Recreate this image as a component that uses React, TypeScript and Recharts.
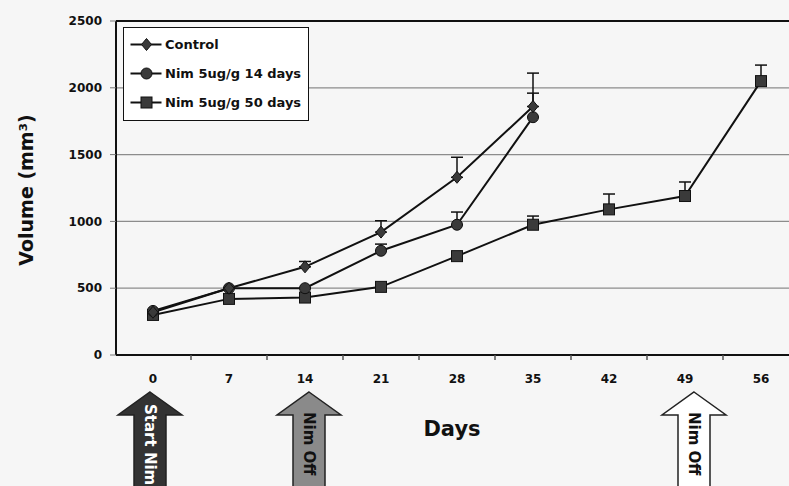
import { LineChart, Line, XAxis, YAxis, CartesianGrid, ReferenceLine, ErrorBar, Legend } from "recharts";

const days = [0, 7, 14, 21, 28, 35, 42, 49, 56];
const control = [320, 500, 660, 920, 1330, 1860, null, null, null];
const controlErr = [0, 0, 40, 85, 150, 250, null, null, null];
const nim14 = [330, 500, 500, 780, 975, 1780, null, null, null];
const nim14Err = [0, 0, 0, 50, 95, 180, null, null, null];
const nim50 = [300, 420, 430, 510, 740, 975, 1090, 1190, 2050];
const nim50Err = [0, 0, 0, 0, 0, 65, 115, 105, 120];
const yTicks = [0, 500, 1000, 1500, 2000, 2500];

const data = days.map((d, i) => ({
  day: d,
  control: control[i],
  controlErr: controlErr[i] == null ? null : [0, controlErr[i]],
  nim14: nim14[i],
  nim14Err: nim14Err[i] == null ? null : [0, nim14Err[i]],
  nim50: nim50[i],
  nim50Err: [0, nim50Err[i]],
}));

const FONT = "'DejaVu Sans', sans-serif";
const INK = "#111";
const MARK = "#3a3a3a";

function Marker({ kind, cx, cy }: { kind: string; cx: number; cy: number }) {
  if (kind === "diamond")
    return <polygon points={`${cx},${cy - 6} ${cx + 5},${cy} ${cx},${cy + 6} ${cx - 5},${cy}`} fill={MARK} stroke={INK} strokeWidth={1} />;
  if (kind === "circle") return <circle cx={cx} cy={cy} r={5.5} fill={MARK} stroke={INK} strokeWidth={1} />;
  return <rect x={cx - 5.5} y={cy - 5.5} width={11} height={11} fill={MARK} stroke={INK} strokeWidth={1} />;
}

const makeDot = (kind: string) => (props: any) => {
  const { cx, cy, index, value } = props;
  if (cx == null || cy == null || value == null) return <g key={`${kind}-${index}`} />;
  return (
    <g key={`${kind}-${index}`}>
      <Marker kind={kind} cx={cx} cy={cy} />
    </g>
  );
};

const XTick = ({ x, y, payload }: any) => (
  <g>
    <text x={x} y={y + 20} textAnchor="middle" fontFamily={FONT} fontWeight="bold" fontSize={12} fill={INK}>
      {payload.value}
    </text>
    <line x1={x + 38} x2={x + 38} y1={y - 8} y2={y - 3} stroke="#555" strokeWidth={1.5} />
  </g>
);

const legendRows = [
  { label: "Control", kind: "diamond" },
  { label: "Nim 5ug/g 14 days", kind: "circle" },
  { label: "Nim 5ug/g 50 days", kind: "square" },
];

const LegendBox = () => (
  <div
    style={{
      width: 186,
      height: 94,
      boxSizing: "border-box",
      border: `1.5px solid ${INK}`,
      background: "#fff",
      padding: "2px 0",
    }}
  >
    {legendRows.map((r) => (
      <div key={r.label} style={{ display: "flex", alignItems: "center", height: 29 }}>
        <svg width={41} height={29}>
          <line x1={6.5} x2={37.5} y1={14.5} y2={14.5} stroke={INK} strokeWidth={2} />
          <Marker kind={r.kind} cx={22.5} cy={14.5} />
        </svg>
        <span style={{ fontFamily: FONT, fontWeight: "bold", fontSize: 13, color: INK, whiteSpace: "nowrap" }}>
          {r.label}
        </span>
      </div>
    ))}
  </div>
);

function Arrow({ cx, fill, label, textFill, textY }: { cx: number; fill: string; label: string; textFill: string; textY: number }) {
  const pts = `${cx},392 ${cx + 32},415 ${cx + 16},415 ${cx + 16},492 ${cx - 16},492 ${cx - 16},415 ${cx - 32},415`;
  return (
    <g>
      <polygon points={pts} fill={fill} stroke="#222" strokeWidth={1.5} />
      <text
        transform={`translate(${cx},${textY}) rotate(90)`}
        textAnchor="start"
        dominantBaseline="central"
        fontFamily={FONT}
        fontWeight="bold"
        fontSize={15}
        fill={textFill}
      >
        {label}
      </text>
    </g>
  );
}

export default function App() {
  return (
    <div style={{ position: "absolute", left: 0, top: 0, width: 789, height: 486, background: "#f6f6f6", overflow: "hidden" }}>
      <LineChart width={789} height={486} data={data} margin={{ top: 21, right: 0, bottom: 0, left: 0 }}>
        <CartesianGrid vertical={false} stroke="#8c8c8c" strokeWidth={1.2} />
        <XAxis
          dataKey="day"
          type="category"
          height={131}
          padding={{ left: 37, right: 28 }}
          axisLine={{ stroke: INK, strokeWidth: 2 }}
          tickLine={false}
          tickSize={5}
          tickMargin={3}
          tick={<XTick />}
          interval={0}
        />
        <YAxis
          width={116}
          domain={[0, 2500]}
          ticks={yTicks}
          interval={0}
          axisLine={{ stroke: INK, strokeWidth: 2 }}
          tickLine={{ stroke: "#777" }}
          tickSize={6}
          tickMargin={8}
          tick={{ fontFamily: FONT, fontWeight: "bold", fontSize: 12, fill: INK }}
        />
        <ReferenceLine y={2500} stroke={INK} strokeWidth={2} />
        <Legend
          layout="vertical"
          align="center"
          verticalAlign="middle"
          content={<LegendBox />}
          wrapperStyle={{ position: "absolute", top: 27, left: 123, width: 186, height: 94 }}
        />
        <Line dataKey="nim50" name="Nim 5ug/g 50 days" stroke={INK} strokeWidth={2} dot={makeDot("square")} isAnimationActive={false}>
          <ErrorBar dataKey="nim50Err" width={6} stroke={INK} strokeWidth={1.5} direction="y" isAnimationActive={false} />
        </Line>
        <Line dataKey="nim14" name="Nim 5ug/g 14 days" stroke={INK} strokeWidth={2} dot={makeDot("circle")} isAnimationActive={false}>
          <ErrorBar dataKey="nim14Err" width={6} stroke={INK} strokeWidth={1.5} direction="y" isAnimationActive={false} />
        </Line>
        <Line dataKey="control" name="Control" stroke={INK} strokeWidth={2} dot={makeDot("diamond")} isAnimationActive={false}>
          <ErrorBar dataKey="controlErr" width={6} stroke={INK} strokeWidth={1.5} direction="y" isAnimationActive={false} />
        </Line>
      </LineChart>
      <svg width={789} height={486} style={{ position: "absolute", left: 0, top: 0, pointerEvents: "none" }}>
        <text
          transform="translate(26,190) rotate(-90)"
          textAnchor="middle"
          dominantBaseline="central"
          fontFamily={FONT}
          fontWeight="bold"
          fontSize={19}
          fill={INK}
        >
          Volume (mm³)
        </text>
        <text x={452} y={436} textAnchor="middle" fontFamily={FONT} fontWeight="bold" fontSize={21} fill={INK}>
          Days
        </text>
        <Arrow cx={150} fill="#333" label="Start Nim" textFill="#fff" textY={404} />
        <Arrow cx={309} fill="#8a8a8a" label="Nim Off" textFill={INK} textY={412} />
        <Arrow cx={694} fill="#fff" label="Nim Off" textFill={INK} textY={412} />
      </svg>
    </div>
  );
}
